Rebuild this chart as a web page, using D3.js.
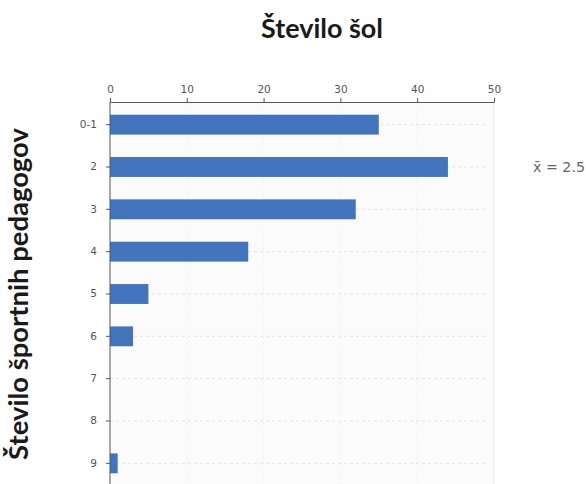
<!DOCTYPE html>
<html><head><meta charset="utf-8">
<script src="https://cdn.jsdelivr.net/npm/d3@7"></script>
<style>body{margin:0;background:#fff}svg{display:block}</style>
</head><body>
<script>
const categories = ["0-1","2","3","4","5","6","7","8","9"];
const values = [35,44,32,18,5,3,0,0,1];
const xTicks = [0,10,20,30,40,50];
const title = "Število šol";
const yTitle = "Število športnih pedagogov";
const meanLabel = "x̄ = 2.5";

(function(){
const W = 586, H = 484;
const svg = d3.select("body").append("svg").attr("width", W).attr("height", H);
const mL = 110, mR = 494, mT = 102, mB = 486;

const x = d3.scaleLinear().domain([0,50]).range([mL,mR]);
const y = d3.scaleBand().domain(categories).range([mT, mB]).paddingInner(0.53).paddingOuter(0.3);

svg.append("rect").attr("x", mL).attr("y", mT).attr("width", mR-mL).attr("height", H-mT)
  .attr("fill", "#fbfbfb");
svg.append("line").attr("x1", mR).attr("x2", mR).attr("y1", mT).attr("y2", H)
  .attr("stroke", "#e6e6e6");

svg.append("g").selectAll("line").data(xTicks.slice(1,-1)).join("line")
  .attr("x1", d=>x(d)).attr("x2", d=>x(d)).attr("y1", mT).attr("y2", H)
  .attr("stroke", "#efefef").attr("stroke-dasharray","2,3");

svg.append("g").selectAll("line").data(categories).join("line")
  .attr("x1", mL).attr("x2", mR-7)
  .attr("y1", d=>y(d)+y.bandwidth()/2).attr("y2", d=>y(d)+y.bandwidth()/2)
  .attr("stroke", "#e2e2e2").attr("stroke-dasharray","3,3");

svg.append("g").selectAll("rect").data(categories).join("rect")
  .attr("x", x(0)).attr("y", d=>y(d))
  .attr("width", (d,i)=>x(values[i])-x(0)).attr("height", y.bandwidth())
  .attr("fill", "#4275bd");

const gx = svg.append("g").attr("transform", `translate(0,${mT})`)
  .call(d3.axisTop(x).tickValues(xTicks).tickSize(4).tickSizeOuter(0).tickPadding(5));
gx.select(".domain").attr("stroke", "#555");
gx.selectAll(".tick line").attr("stroke", "#555");
gx.selectAll("text").attr("font-family","DejaVu Sans").attr("font-size", 10.5).attr("fill","#555");

const gy = svg.append("g").attr("transform", `translate(${mL},0)`)
  .call(d3.axisLeft(y).tickSize(4).tickSizeOuter(0).tickPadding(9));
gy.select(".domain").attr("stroke", "#555").attr("d", `M0,${mT}V${H}`);
gy.selectAll(".tick line").attr("stroke", "#555");
gy.selectAll("text").attr("font-family","DejaVu Sans").attr("font-size", 10.5).attr("fill","#555");

function fit(sel, target){
  const len = sel.node().getComputedTextLength();
  const fs = parseFloat(sel.attr("font-size"));
  sel.attr("font-size", fs*target/len);
}
const t1 = svg.append("text").attr("x", 322).attr("y", 38).attr("text-anchor","middle")
  .attr("font-family","Lato").attr("font-weight","bold").attr("font-size", 20)
  .attr("fill","#1a1a1a").text(title);
fit(t1, 122);
const t2 = svg.append("text").attr("transform", "translate(28,294) rotate(-90)").attr("text-anchor","middle")
  .attr("font-family","Lato").attr("font-weight","bold").attr("font-size", 20)
  .attr("fill","#1a1a1a").text(yTitle);
fit(t2, 332);

const t3 = svg.append("text").attr("x", 533).attr("y", 172)
  .attr("font-family","DejaVu Sans").attr("font-size", 10).attr("fill","#666").text(meanLabel);
fit(t3, 52);
})();
</script>
</body></html>
